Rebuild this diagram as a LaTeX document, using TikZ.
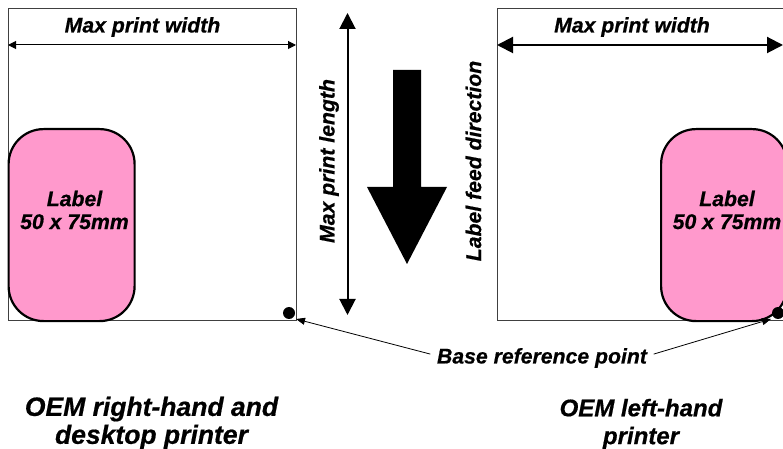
\documentclass[tikz,border=0pt]{standalone}
\usepackage{fontspec}
\setmainfont[BoldItalicFeatures={FakeBold=0.6}]{Liberation Sans}
\usetikzlibrary{arrows.meta}
\definecolor{labelpink}{HTML}{FF99CC}
\newcommand{\smallfont}{\fontsize{21.3}{23}\selectfont\bfseries\itshape}
\newcommand{\bigfont}{\fontsize{26.6}{28}\selectfont\bfseries\itshape}
\newcommand{\midfont}{\fontsize{24.1}{28}\selectfont\bfseries\itshape}
\tikzset{
  x=1bp,y=-1bp,
  printarea/.style={draw=black!75,line width=1bp,minimum width=#1,minimum height=312bp,inner sep=0pt,anchor=north west},
  labelstock/.style={draw=black,fill=labelpink,line width=2.2bp,rounded corners=35bp,minimum width=126bp,minimum height=192bp,inner sep=0pt,anchor=north west},
  txt/.style={font=\smallfont,inner sep=0pt,align=center},
  bigtxt/.style={font=\bigfont,inner sep=0pt,align=center},
  midtxt/.style={font=\midfont,inner sep=0pt,align=center},
  refdot/.style={circle,fill=black,minimum size=12bp,inner sep=0pt},
  thindim/.style={line width=1bp,{Triangle[length=8bp,width=8bp]}-{Triangle[length=8bp,width=8bp]}},
  thickdim/.style={line width=2bp,{Triangle[length=16bp,width=16bp]}-{Triangle[length=16bp,width=16bp]}},
  lengthdim/.style={line width=2bp,{Triangle[length=16bp,width=16bp]}-{Triangle[length=16bp,width=16bp]}},
  leader/.style={line width=.8bp,-{Triangle[length=9bp,width=7bp]}},
}
\begin{document}
\begin{tikzpicture}
\useasboundingbox[clip] (0,0) rectangle (783,449);
\fill[white] (0,0) rectangle (783,449);
% print areas
\node[printarea=288.5bp] (leftarea) at (7.5,8) {};
\node[printarea=288.5bp] (rightarea) at (497,8) {};
% labels
\node[labelstock] (leftlabel) at (7.5,128) {};
\node[labelstock] (rightlabel) at (660,128) {};
\node[txt] (lefttext) at (74.5,210) {Label\\50 x 75mm};
\node[txt] (righttext) at (727,210) {Label\\50 x 75mm};
% dots
\node[refdot] (leftdot) at (289,313) {};
\node[refdot] (rightdot) at (778,313) {};
% width dimensions
\coordinate (lw1) at (8,45); \coordinate (lw2) at (296,45);
\coordinate (rw1) at (497,45); \coordinate (rw2) at (783,45);
\draw[thindim] (lw1) -- (lw2);
\draw[thickdim] (rw1) -- (rw2);
\node[txt] (leftwidth) at (142.5,27) {Max print width};
\node[txt] (rightwidth) at (632,27) {Max print width};
% length dimension
\coordinate (len1) at (347.5,13); \coordinate (len2) at (347.5,315);
\draw[lengthdim] (len1) -- (len2);
\node[txt,rotate=90] (lengthtext) at (329,161) {Max print length};
\node[txt,rotate=90] (feedtext) at (473.5,161) {Label feed direction};
% feed arrow
\fill[black] (393,70) -- (421,70) -- (421,187) -- (447,187) -- (407,264) -- (367,187) -- (393,187) -- cycle;
% base reference
\node[txt,inner xsep=6.5bp,inner ysep=2bp] (base) at (542,358) {Base reference point};
\coordinate (leftref) at (296,319);
\coordinate (rightref) at (771,319);
\draw[leader] (base.178) -- (leftref);
\draw[leader] (base.2) -- (rightref);
% captions
\node[bigtxt] (leftcap) at (151.5,423) {OEM right-hand and\\desktop printer};
\node[midtxt] (rightcap) at (641,424) {OEM left-hand\\printer};
\end{tikzpicture}
\end{document}
